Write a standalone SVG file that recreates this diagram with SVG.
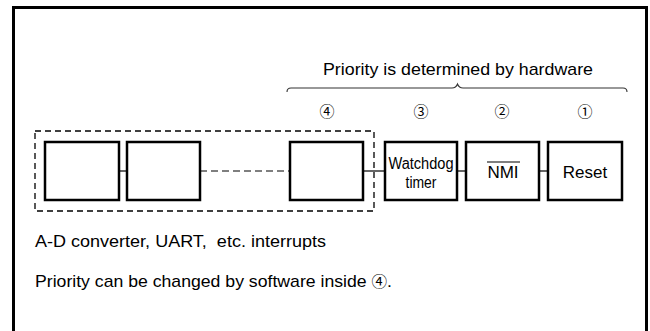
<svg xmlns="http://www.w3.org/2000/svg" width="650" height="331" viewBox="0 0 650 331">
<style>
.t{font-family:"Liberation Sans",Arial,"Noto Sans CJK JP",sans-serif;fill:#000}
.c{font-family:"Noto Sans CJK JP","DejaVu Sans",sans-serif;font-size:15px;fill:#000;text-anchor:middle}
.box{fill:#fff;stroke:#000;stroke-width:2.5}
.ln{stroke:#000;stroke-width:1.2;fill:none}
</style>
<rect width="650" height="331" fill="#fff"/>
<path d="M13.5 340 V7.5 H646.5 V340" fill="none" stroke="#000" stroke-width="3"/>
<text class="t" x="323" y="75" font-size="17" textLength="270" lengthAdjust="spacingAndGlyphs">Priority is determined by hardware</text>
<path d="M287 92 Q287 88 291 88 H452 Q456 88 457.5 84 Q459 88 463 88 H623 Q627 88 627 92" fill="none" stroke="#333" stroke-width="1.1"/>
<text class="c" x="327" y="117">④</text>
<text class="c" x="421" y="117">③</text>
<text class="c" x="502" y="117">②</text>
<text class="c" x="585" y="117">①</text>
<rect x="35" y="131" width="339" height="80" fill="none" stroke="#000" stroke-width="1.3" stroke-dasharray="6,4"/>
<g id="connectors">
<line class="ln" x1="119" y1="171" x2="127" y2="171"/>
<line class="ln" x1="200" y1="171" x2="290" y2="171" stroke-dasharray="7,4"/>
<line class="ln" x1="363" y1="171" x2="385" y2="171"/>
<line class="ln" x1="457" y1="171" x2="466" y2="171"/>
<line class="ln" x1="539" y1="171" x2="548" y2="171"/>
</g>
<g id="n1"><rect class="box" x="45" y="142" width="74" height="58"/></g>
<g id="n2"><rect class="box" x="127" y="142" width="73" height="58"/></g>
<g id="n3"><rect class="box" x="290" y="142" width="73" height="58"/></g>
<g id="watchdog"><rect class="box" x="385" y="142" width="72" height="58"/>
<text class="t" x="421" y="169" font-size="16" text-anchor="middle" textLength="65" lengthAdjust="spacingAndGlyphs">Watchdog</text>
<text class="t" x="421" y="188" font-size="16" text-anchor="middle" textLength="31" lengthAdjust="spacingAndGlyphs">timer</text></g>
<g id="nmi"><rect class="box" x="466" y="142" width="73" height="58"/>
<text class="t" x="503" y="178" font-size="17" text-anchor="middle">NMI</text>
<line x1="487" y1="162" x2="520" y2="162" stroke="#000" stroke-width="1.2"/></g>
<g id="reset"><rect class="box" x="548" y="142" width="74" height="58"/>
<text class="t" x="585" y="178" font-size="17" text-anchor="middle">Reset</text></g>
<text class="t" x="35" y="247" font-size="17" textLength="291" lengthAdjust="spacingAndGlyphs" xml:space="preserve">A-D converter, UART,  etc. interrupts</text>
<text class="t" x="35" y="287" font-size="17" textLength="357" lengthAdjust="spacingAndGlyphs">Priority can be changed by software inside <tspan font-family="Noto Sans CJK JP,sans-serif" font-size="15">④</tspan>.</text>
</svg>
